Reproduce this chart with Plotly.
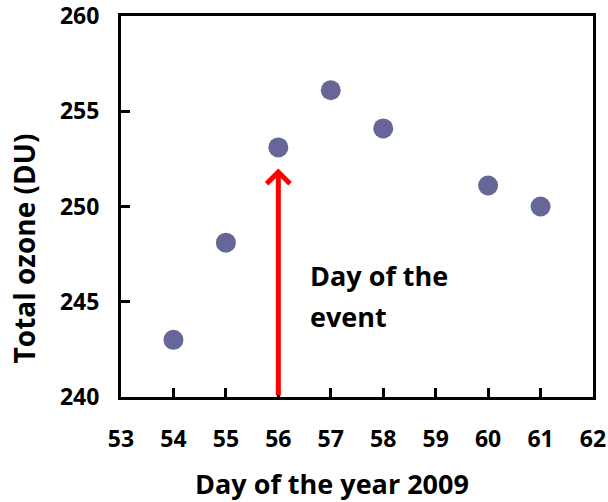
import plotly.graph_objects as go

days = [54, 55, 56, 57, 58, 60, 61]
ozone = [243.0, 248.1, 253.1, 256.1, 254.1, 251.1, 250.0]
event_day = 56
arrow_range = [240, 252]
x_ticks = [53, 54, 55, 56, 57, 58, 59, 60, 61, 62]
y_ticks = [240, 245, 250, 255, 260]
event_label = ["Day of the", "event"]
x_title = "Day of the year 2009"
y_title = "Total ozone (DU)"

FONT = "Open Sans"

fig = go.Figure()
fig.add_trace(go.Scatter(
    x=days, y=ozone, mode="markers",
    marker=dict(size=20, color="#666699"),
    showlegend=False, hoverinfo="x+y",
))

fig.add_annotation(
    x=event_day, y=arrow_range[1], ax=event_day, ay=arrow_range[0],
    xref="x", yref="y", axref="x", ayref="y",
    showarrow=True, arrowhead=4, arrowsize=0.9, arrowwidth=5,
    arrowcolor="#ff0000", text="",
)
for txt, yy in zip(event_label, [246.4, 244.2]):
    fig.add_annotation(
        x=56.566, y=yy, xref="x", yref="y",
        text=txt, showarrow=False,
        xanchor="left", yanchor="middle", align="left",
        font=dict(family=FONT, size=27, color="#000000", weight="bold"),
    )

fig.add_annotation(
    x=-0.2055, y=0.39, xref="paper", yref="paper",
    text=y_title, showarrow=False, textangle=-90,
    xanchor="center", yanchor="middle",
    font=dict(family=FONT, size=28, color="#000000", weight="bold"),
)
fig.add_annotation(
    x=0.446, y=-0.228, xref="paper", yref="paper",
    text=x_title, showarrow=False,
    xanchor="center", yanchor="middle",
    font=dict(family=FONT, size=27, color="#000000", weight="bold"),
)

axis_common = dict(
    showline=True, linecolor="#000000", linewidth=3, mirror=True,
    ticks="inside", ticklen=9, tickwidth=3, tickcolor="#000000",
    showgrid=False, zeroline=False, automargin=False,
    ticklabeloverflow="allow",
    tickfont=dict(family=FONT, size=23, color="#000000", weight="bold"),
)

fig.update_layout(
    width=608, height=502,
    margin=dict(l=121, r=15, t=16, b=105),
    paper_bgcolor="#ffffff", plot_bgcolor="#ffffff",
    xaxis=dict(range=[53, 62], tickvals=x_ticks, ticklabelstandoff=19, **axis_common),
    yaxis=dict(range=[240, 260], tickvals=y_ticks, ticklabelstandoff=14, **axis_common),
)

fig.write_html("out.html")
